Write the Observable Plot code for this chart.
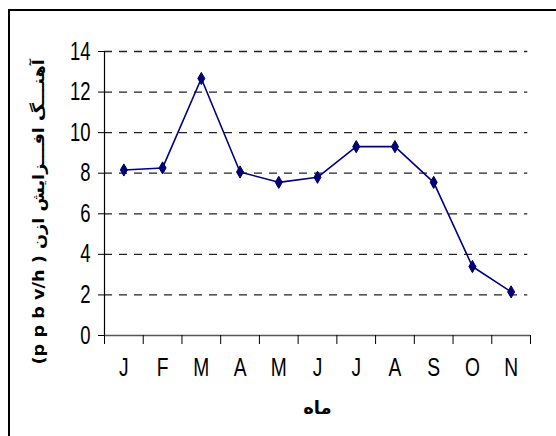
<!DOCTYPE html>
<html>
<head>
<meta charset="utf-8">
<script src="https://cdn.jsdelivr.net/npm/d3@7"></script>
<script src="https://cdn.jsdelivr.net/npm/@observablehq/plot@0.6"></script>
<style>
  html, body { margin: 0; padding: 0; background: #fff; overflow: hidden; }
  #wrap { position: relative; width: 556px; height: 436px; }
  #frame { position: absolute; left: 8px; top: 9px; width: 600px; height: 500px;
           border-top: 2px solid #000; border-left: 2px solid #000; pointer-events: none; }
</style>
</head>
<body>
<div id="wrap"><div id="frame"></div></div>
<script>
const months = ["J","F","M","A","M","J","J","A","S","O","N"];
const values = [8.16, 8.26, 12.67, 8.06, 7.55, 7.8, 9.31, 9.31, 7.55, 3.4, 2.15];
const yTicks = [0, 2, 4, 6, 8, 10, 12, 14];
const xLabel = "ماه";
const yLabel = "(p p b v/h ) آهنـــگ افـــزایش ازن";

const data = months.map((m, i) => ({i, pos: i + 0.5, month: m, value: values[i]}));
const narrow = "'Liberation Sans', Arial, sans-serif";

const chart = Plot.plot({
  width: 556,
  height: 436,
  marginLeft: 104,
  marginRight: 26,
  marginTop: 51,
  marginBottom: 101,
  style: {background: "transparent", overflow: "visible"},
  x: {type: "linear", domain: [0, months.length]},
  y: {domain: [0, 14]},
  marks: [
    Plot.ruleY(yTicks.filter(d => d > 0), {stroke: "#222", strokeWidth: 1.3, strokeDasharray: "8,7", x1: 0, x2: 10.93}),
    Plot.ruleX([0], {stroke: "#000", strokeWidth: 1.2}),
    Plot.ruleY([0], {stroke: "#555", strokeWidth: 1.5}),
    Plot.axisY({ticks: yTicks, tickSize: 6, tickPadding: 8, fontSize: 25, fontFamily: narrow, stroke: "#000", label: null, color: "#000"}),
    Plot.axisX({ticks: d3.range(0, months.length + 1), tickSize: 9, tickFormat: () => "", label: null, stroke: "#000"}),
    Plot.axisX({ticks: data.map(d => d.pos), tickSize: 0, tickPadding: 22, tickFormat: d => months[Math.floor(d)], fontSize: 26, fontFamily: narrow, label: null}),
    Plot.line(data, {x: "pos", y: "value", stroke: "#000080", strokeWidth: 1.6}),
    Plot.dot(data, {x: "pos", y: "value", symbol: "diamond", r: 3.7, fill: "#000070", stroke: "#000070", strokeWidth: 1}),
    Plot.text([xLabel], {frameAnchor: "bottom", dy: 78, fontSize: 18, fontWeight: "bold", fontFamily: "'DejaVu Sans', sans-serif", fill: "#000"}),
    Plot.text([yLabel], {frameAnchor: "left", dx: -66, dy: 18, rotate: -90, fontSize: 16, fontWeight: "bold", fontFamily: "'DejaVu Sans', Arial, sans-serif", fill: "#000"})
  ]
});
document.getElementById("wrap").appendChild(chart);
chart.style.position = "absolute";
chart.style.left = "0";
chart.style.top = "0";

// condense tick labels (narrow typeface look)
d3.select(chart).selectAll('g[aria-label="y-axis tick label"] text, g[aria-label="x-axis tick label"] text')
  .each(function() {
    const t = this.getAttribute("transform") || "";
    this.setAttribute("transform", t + " scale(0.74,1)");
  });
// fit rotated y label to the reference's length, centred on its anchor
d3.select(chart).selectAll("text").each(function() {
  if (this.textContent === yLabel) {
    const b = this.getBBox();
    const s = 306 / b.width;
    const cx = b.x + b.width / 2;
    const t = this.getAttribute("transform") || "";
    this.setAttribute("transform", `${t} scale(${s},1) translate(${-cx},0)`);
  }
});
</script>
</body>
</html>
